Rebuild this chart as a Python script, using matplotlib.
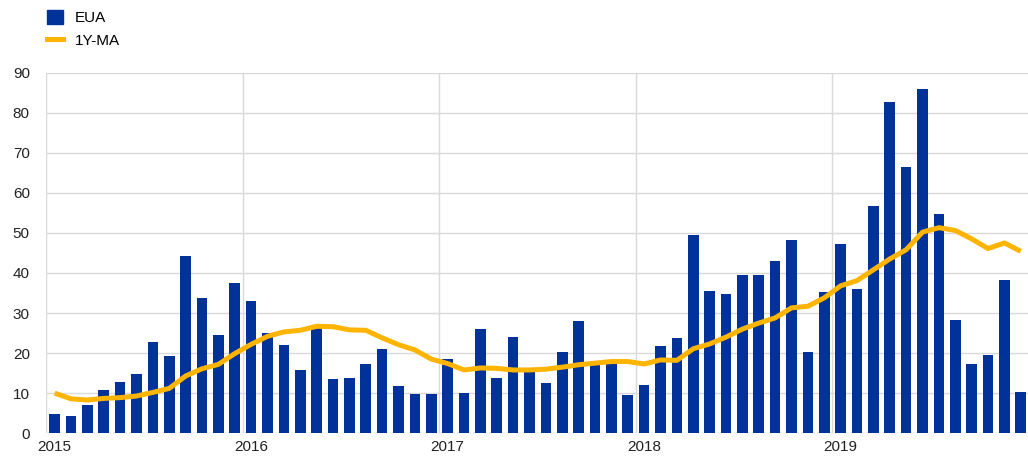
import matplotlib
matplotlib.use("Agg")
import matplotlib.pyplot as plt
from matplotlib.patches import Patch
from matplotlib.lines import Line2D
import numpy as np

plt.rcParams['font.family'] = ['Liberation Sans', 'DejaVu Sans']

years = [2015, 2016, 2017, 2018, 2019]
year_labels = ["2015", "2016", "2017", "2018", "2019"]

eua = [
    # 2015
    4.75, 4.3, 7.0, 10.75, 12.8, 14.75, 22.8, 19.25, 44.3, 33.7, 24.5, 37.4,
    # 2016
    33.1, 25.1, 22.1, 15.8, 26.5, 13.5, 13.9, 17.2, 21.1, 11.9, 9.9, 9.7,
    # 2017
    18.5, 10.0, 25.9, 13.9, 24.0, 15.6, 12.5, 20.2, 27.9, 17.6, 17.2, 9.5,
    # 2018
    12.1, 21.7, 23.7, 49.6, 35.6, 34.7, 39.4, 39.5, 43.1, 48.2, 20.3, 35.3,
    # 2019
    47.3, 36.0, 56.8, 82.7, 66.5, 86.0, 54.7, 28.2, 17.2, 19.6, 38.2, 10.4,
]

ma_1y = [
    # 2015
    10.0, 8.6, 8.3, 8.7, 8.9, 9.3, 10.2, 11.2, 14.3, 16.1, 17.2, 19.9,
    # 2016
    22.2, 24.2, 25.3, 25.7, 26.7, 26.6, 25.8, 25.7, 23.8, 22.1, 20.8, 18.5,
    # 2017
    17.4, 15.8, 16.3, 16.2, 15.8, 15.8, 16.0, 16.5, 17.1, 17.5, 17.9, 17.9,
    # 2018
    17.3, 18.3, 18.2, 21.1, 22.3, 24.0, 26.0, 27.5, 28.8, 31.3, 31.7, 33.8,
    # 2019
    36.8, 38.1, 40.8, 43.5, 45.8, 50.2, 51.3, 50.6, 48.5, 46.1, 47.5, 45.4,
]

blue = "#003299"
orange = "#FFB400"
grid_c = "#d9d9d9"

n = len(eua)
x = np.array([years[0] + (i + 0.5) / 12 for i in range(n)])

fig = plt.figure(figsize=(10.28, 4.57), dpi=100)
ax = fig.add_axes([0.0452, 0.0519, 0.9548, 0.7892])

# grid
for v in range(0, 100, 10):
    ax.axhline(v, color=grid_c, lw=1.0, zorder=0)
for yv in years:
    ax.axvline(yv, color=grid_c, lw=1.0, zorder=0)

ax.bar(x, eua, width=0.65 / 12, color=blue, zorder=2, label="EUA")
ax.plot(x, ma_1y, color=orange, lw=3.6, zorder=3, solid_capstyle='butt', label="1Y-MA")

ax.set_xlim(years[0], years[-1] + 0.995)
ax.set_ylim(0, 90)
ax.set_yticks(range(0, 100, 10))
ax.set_xticks([yv + 1 / 24 for yv in years])
ax.set_xticklabels(year_labels)
ax.tick_params(axis='both', length=0, labelsize=11, colors="#222222")
ax.tick_params(axis='y', pad=12)
ax.tick_params(axis='x', pad=5)
for s in ax.spines.values():
    s.set_visible(False)

handles = [Patch(facecolor=blue, edgecolor=blue), Line2D([0], [0], color=orange, lw=3.6)]
fig.legend(handles, ["EUA", "1Y-MA"], loc="upper left", bbox_to_anchor=(0.037, 0.998),
           frameon=False, fontsize=11, handlelength=1.05, handleheight=1.0,
           handletextpad=0.75, labelspacing=0.5, borderaxespad=0.2)

fig.savefig("out.png", dpi=100)
